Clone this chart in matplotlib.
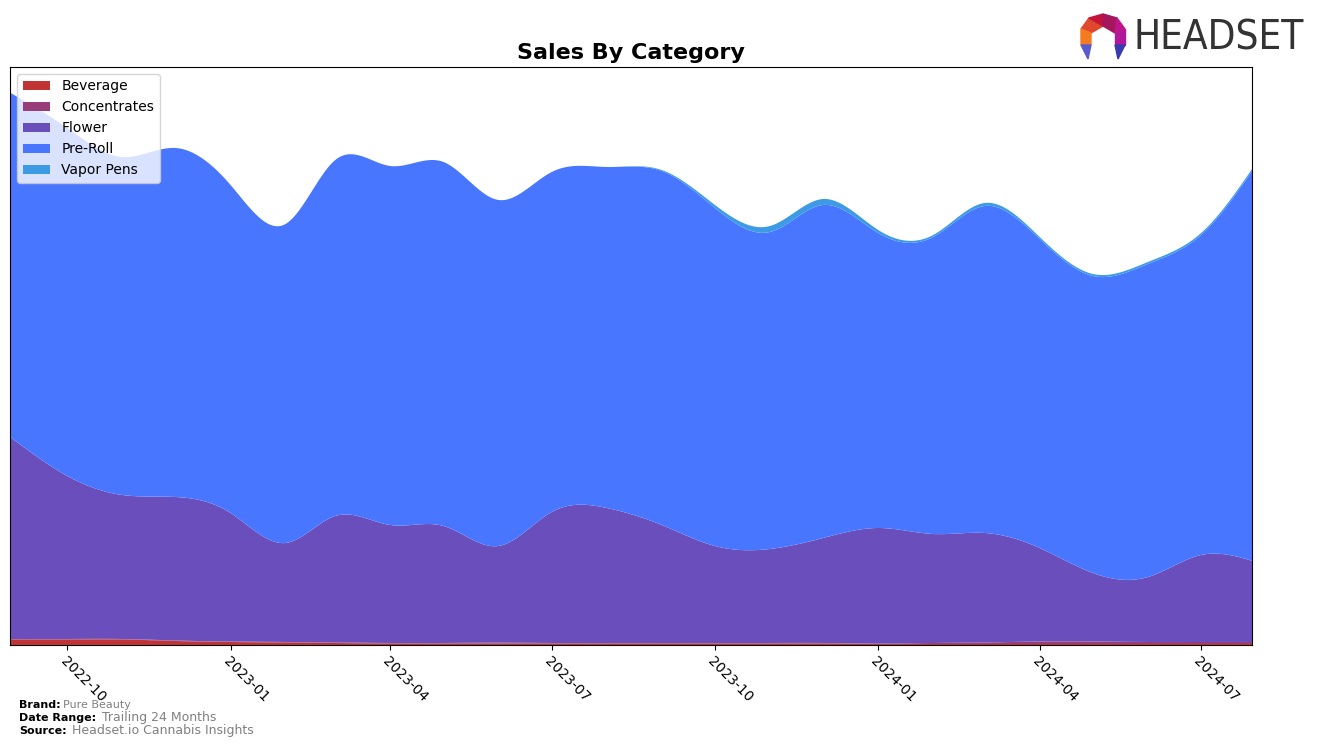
import numpy as np
import pandas as pd
import matplotlib
matplotlib.use('Agg')
import matplotlib.pyplot as plt
import matplotlib.dates as mdates
from matplotlib.patches import Polygon

# monthly sales by category (relative units)
months = ['2022-09', '2022-10', '2022-11', '2022-12', '2023-01', '2023-02',
          '2023-03', '2023-04', '2023-05', '2023-06', '2023-07', '2023-08',
          '2023-09', '2023-10', '2023-11', '2023-12', '2024-01', '2024-02',
          '2024-03', '2024-04', '2024-05', '2024-06', '2024-07', '2024-08']
beverage = [5.5, 5.5, 5.5, 4.0, 3.0, 2.5, 2.0, 1.5, 1.5, 1.5, 1.5, 1.5,
            1.5, 1.5, 1.5, 1.5, 1.0, 1.0, 1.0, 1.0, 1.0, 1.0, 1.0, 1.0]
concentrates = [0.5, 0.5, 0.5, 0.5, 0.5, 0.5, 0.5, 0.5, 0.5, 0.8, 0.5, 0.5,
                0.5, 0.5, 0.5, 0.5, 0.5, 1.0, 1.5, 2.5, 2.5, 2.0, 2.0, 2.0]
flower = [199, 163, 144, 143.5, 128.5, 99, 126.5, 118, 117, 96.7, 131, 135,
          118, 97, 94, 105, 115.5, 109, 109.5, 93.5, 68.5, 65, 87, 80]
pre_roll = [345, 348, 338, 349, 328, 319, 356, 359, 364, 346, 340, 341,
            354, 338, 317, 333, 295, 297, 327, 309, 297, 313, 320, 397]
vapor_pens = [0, 0, 0, 0, 0, 0, 0, 0, 0, 0, 0, 0,
              1, 3, 6, 6, 3, 2, 3, 2, 2, 2, 2, 2]

categories = ['Beverage', 'Concentrates', 'Flower', 'Pre-Roll', 'Vapor Pens']
colors = ['#c23434', '#993d7a', '#6a4fbc', '#4876ff', '#3d9be6']


def natural_spline(x, y, xs):
    # natural cubic spline, only used to draw smooth edges
    n = len(x)
    h = np.diff(x)
    A = np.zeros((n, n))
    r = np.zeros(n)
    A[0, 0] = A[-1, -1] = 1
    for i in range(1, n - 1):
        A[i, i - 1] = h[i - 1]
        A[i, i] = 2 * (h[i - 1] + h[i])
        A[i, i + 1] = h[i]
        r[i] = 3 * ((y[i + 1] - y[i]) / h[i] - (y[i] - y[i - 1]) / h[i - 1])
    c = np.linalg.solve(A, r)
    b = (np.diff(y) / h) - h * (2 * c[:-1] + c[1:]) / 3
    d = np.diff(c) / (3 * h)
    idx = np.clip(np.searchsorted(x, xs) - 1, 0, n - 2)
    dx = xs - x[idx]
    return y[idx] + b[idx] * dx + c[idx] * dx ** 2 + d[idx] * dx ** 3


dates = pd.to_datetime(months)
xn = mdates.date2num(dates)
x0, x1 = xn[0] - 2.3, xn[-1] - 2.3
xs = np.linspace(x0, x1, 800)
series = [beverage, concentrates, flower, pre_roll, vapor_pens]
smooth = [np.clip(natural_spline(xn, np.array(s, float), xs), 0, None) for s in series]

fig = plt.figure(figsize=(13.17, 7.46), dpi=100)
ax = fig.add_axes([0.0076, 0.1354, 0.9431, 0.7748])
ax.stackplot(mdates.num2date(xs), *smooth, labels=categories, colors=colors)

ax.set_xlim(mdates.num2date(x0), mdates.num2date(x1))
ax.set_ylim(0, 578)
ax.set_yticks([])
ax.xaxis.set_major_locator(mdates.MonthLocator(bymonth=[1, 4, 7, 10]))
ax.xaxis.set_major_formatter(mdates.DateFormatter('%Y-%m'))
plt.setp(ax.get_xticklabels(), rotation=-45, ha='left', rotation_mode='anchor', fontsize=10)
ax.set_title('Sales By Category', fontsize=16, fontweight='bold', pad=6)
ax.legend(loc='upper left', fontsize=10, framealpha=0.8)

# footer
fig.text(0.0144, 0.0515, 'Brand:', fontsize=8, fontweight='bold')
fig.text(0.048, 0.0515, 'Pure Beauty', fontsize=8, color='gray')
fig.text(0.0144, 0.0335, 'Date Range:', fontsize=8, fontweight='bold')
fig.text(0.0775, 0.0335, 'Trailing 24 Months', fontsize=9, color='gray')
fig.text(0.0144, 0.0155, 'Source:', fontsize=8, fontweight='bold')
fig.text(0.0547, 0.0155, 'Headset.io Cannabis Insights', fontsize=9, color='gray')

# logo
fig.text(0.861, 0.948, 'HEADSET', fontsize=29, color='#333333', va='center',
         family='DejaVu Sans', fontstretch='condensed')
W, H = 1317, 746
cx, cy = 1103, 37
pts = [(cx - 22, cy - 8), (cx - 14, cy - 19), (cx, cy - 23), (cx + 14, cy - 19),
       (cx + 22, cy - 8), (cx + 22, cy + 8), (cx + 12, cy + 8), (cx + 12, cy - 4),
       (cx, cy - 11), (cx - 12, cy - 4), (cx - 12, cy + 8), (cx - 22, cy + 8)]
segs = [([0, 1, 8, 9], '#e0472f'), ([1, 2, 8], '#c4143c'), ([2, 3, 7, 8], '#a5175c'),
        ([3, 4, 7], '#c0158a'), ([4, 5, 6, 7], '#b0189a'), ([0, 9, 10, 11], '#f47b20')]
for ids, col in segs:
    poly = [(pts[i][0] / W, 1 - pts[i][1] / H) for i in ids]
    fig.patches.append(Polygon(poly, closed=True, color=col, transform=fig.transFigure))
for sx, col in [(-1, '#5a5ad0'), (1, '#3a3ab0')]:
    poly = [(cx + sx * 22, cy + 8), (cx + sx * 12, cy + 8), (cx + sx * 15, cy + 22)]
    poly = [(px / W, 1 - py / H) for px, py in poly]
    fig.patches.append(Polygon(poly, closed=True, color=col, transform=fig.transFigure))

fig.savefig('out.png', dpi=100)
